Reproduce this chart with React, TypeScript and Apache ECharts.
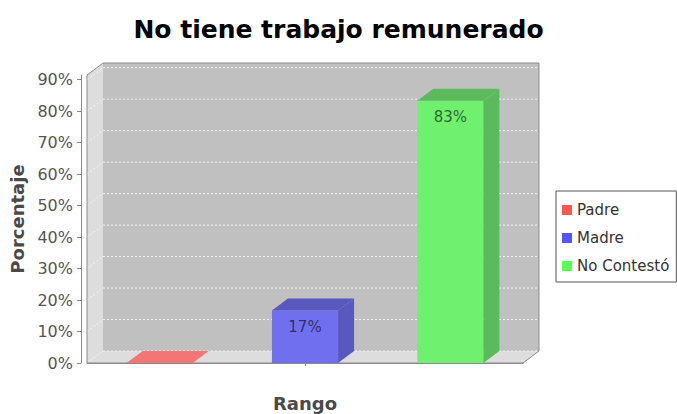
import React, { useEffect, useRef } from "react";
import * as echarts from "echarts";

// ---- data ----
const chartTitle = "No tiene trabajo remunerado";
const axisCategory = ["Rango"];
const seriesNames = ["Padre", "Madre", "No Contestó"];
const seriesValues = [0, 16.67, 83.33];
const yTickValues = [0, 10, 20, 30, 40, 50, 60, 70, 80, 90];
const yAxisMax = 91.5;

// ---- styles ----
const FONT = "DejaVu Sans";
const DX = 16;
const DY = 12;
const baseColors = ["#FF5555", "#5555FF", "#55FF55"];
const frontColors = ["#F06F6F", "#6F6FF0", "#6FF06F"];
const darkColors = ["#BE5858", "#5858BE", "#5CBA5C"];
const zeroColors = ["#F47575", "#7575F4", "#75F475"];

function renderWalls(params: any, api: any) {
  const cs = params.coordSys;
  const x0 = cs.x;
  const x1 = cs.x + cs.width;
  const yT = cs.y;
  const yB = cs.y + cs.height;
  const children: any[] = [];
  children.push({
    type: "rect",
    shape: { x: x0 + DX, y: yT - DY, width: x1 - x0, height: yB - yT },
    style: { fill: "#C0C0C0" },
  });
  children.push({
    type: "polygon",
    shape: { points: [[x0, yT], [x0 + DX, yT - DY], [x0 + DX, yB - DY], [x0, yB]] },
    style: { fill: "#DDDDDD" },
  });
  children.push({
    type: "polygon",
    shape: { points: [[x0, yB], [x0 + DX, yB - DY], [x1 + DX, yB - DY], [x1, yB]] },
    style: { fill: "#DDDDDD" },
  });
  yTickValues.forEach((v) => {
    const y = api.coord([0, v])[1];
    children.push({
      type: "polyline",
      shape: { points: [[x0, y], [x0 + DX, y - DY], [x1 + DX, y - DY]] },
      style: { stroke: "#F4F4F4", lineWidth: 1, lineDash: [2, 2], fill: null },
    });
  });
  children.push({
    type: "polygon",
    shape: {
      points: [
        [x0, yB], [x0, yT], [x0 + DX, yT - DY], [x1 + DX, yT - DY],
        [x1 + DX, yB - DY], [x1, yB],
      ],
    },
    style: { fill: null, stroke: "#8C8C8C", lineWidth: 1 },
  });
  return { type: "group", children };
}

function makeBarRenderer(i: number) {
  return (params: any, api: any) => {
    const idx = api.value(0);
    const v = api.value(1);
    const top = api.coord([idx, v]);
    const base = api.coord([idx, 0]);
    const bw = api.size([1, 0])[0] * 0.455;
    const x0 = top[0] - bw / 2;
    const x1 = x0 + bw;
    const yt = top[1];
    const yb = base[1];
    const children: any[] = [];
    if (v > 0) {
      children.push({
        type: "rect",
        shape: { x: x0, y: yt, width: bw, height: yb - yt },
        style: { fill: frontColors[i] },
      });
      children.push({
        type: "polygon",
        shape: { points: [[x1, yt], [x1 + DX, yt - DY], [x1 + DX, yb - DY], [x1, yb]] },
        style: { fill: darkColors[i] },
      });
      children.push({
        type: "polygon",
        shape: { points: [[x0, yt], [x0 + DX, yt - DY], [x1 + DX, yt - DY], [x1, yt]] },
        style: { fill: darkColors[i] },
      });
      children.push({
        type: "text",
        x: (x0 + x1) / 2,
        y: yt + 16,
        style: {
          text: Math.round(v) + "%",
          fill: "rgba(0,0,0,0.6)",
          fontFamily: FONT,
          fontSize: 15,
          align: "center",
          verticalAlign: "middle",
        },
      });
    } else {
      children.push({
        type: "polygon",
        shape: { points: [[x0, yt], [x0 + DX, yt - DY], [x1 + DX, yt - DY], [x1, yt]] },
        style: { fill: zeroColors[i] },
      });
    }
    return { type: "group", children };
  };
}

export default function App() {
  const ref = useRef<HTMLDivElement>(null);
  useEffect(() => {
    const chart = echarts.init(ref.current!, null, { renderer: "svg" });
    const barSeries = seriesNames.map((name, i) => ({
      type: "custom",
      name,
      xAxisIndex: 1,
      yAxisIndex: 0,
      z: 3,
      itemStyle: { color: baseColors[i] },
      renderItem: makeBarRenderer(i),
      data: [[i, seriesValues[i]]],
    }));
    chart.setOption({
      animation: false,
      backgroundColor: "#ffffff",
      textStyle: { fontFamily: FONT },
      title: {
        text: chartTitle,
        left: "center",
        top: 17,
        padding: 0,
        textStyle: { fontFamily: FONT, fontSize: 25, fontWeight: "bold", color: "#000" },
      },
      legend: {
        data: seriesNames,
        orient: "vertical",
        left: 556,
        top: 191,
        padding: [11, 7, 8, 6],
        itemGap: 12,
        itemWidth: 10,
        itemHeight: 10,
        icon: "rect",
        borderColor: "#555",
        borderWidth: 1,
        backgroundColor: "#fff",
        textStyle: { fontFamily: FONT, fontSize: 15, color: "#333", lineHeight: 16 },
      },
      grid: { left: 87, top: 75, right: 154, bottom: 51, containLabel: false },
      xAxis: [
        {
          type: "category",
          data: axisCategory,
          position: "bottom",
          offset: 7,
          axisLine: { show: true, lineStyle: { color: "#888", width: 1 } },
          axisTick: { show: true, alignWithLabel: true, length: 3, lineStyle: { color: "#888" } },
          axisLabel: { fontFamily: FONT, fontSize: 18, fontWeight: "bold", color: "#4a4a4a", margin: 24 },
          splitLine: { show: false },
        },
        {
          type: "category",
          data: seriesNames,
          show: false,
        },
      ],
      yAxis: {
        type: "value",
        min: 0,
        max: yAxisMax,
        interval: 10,
        offset: 6,
        name: "Porcentaje",
        nameLocation: "middle",
        nameRotate: 90,
        nameGap: 54,
        nameTextStyle: { fontFamily: FONT, fontSize: 18, fontWeight: "bold", color: "#4a4a4a" },
        axisLine: { show: true, lineStyle: { color: "#888", width: 1 } },
        axisTick: { show: true, length: 4, lineStyle: { color: "#888" }, customValues: yTickValues },
        axisLabel: {
          fontFamily: FONT,
          fontSize: 16,
          color: "#555",
          margin: 8,
          formatter: "{value}%",
          customValues: yTickValues,
        },
        splitLine: { show: false },
      },
      series: [
        {
          type: "custom",
          xAxisIndex: 1,
          yAxisIndex: 0,
          z: 1,
          silent: true,
          renderItem: renderWalls,
          data: [[0, 0]],
        },
        ...barSeries,
      ],
    });
    return () => chart.dispose();
  }, []);
  return (
    <div
      ref={ref}
      style={{ position: "fixed", left: 0, top: 0, width: 677, height: 414, background: "#fff" }}
    />
  );
}
